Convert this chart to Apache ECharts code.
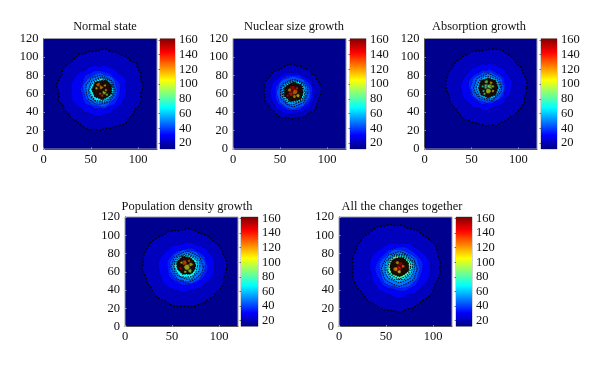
<!DOCTYPE html>
<html><head><meta charset="utf-8">
<style>html,body{margin:0;padding:0;background:#fff}#c{width:600px;height:366px;filter:blur(.3px)}</style>
<script src="https://cdn.jsdelivr.net/npm/echarts@6/dist/echarts.min.js"></script>
</head><body><div id="c"></div>
<script>
// Filled contours: [level, centre x, centre y, [radius per equal angle step, counter-clockwise from east]]
// Level 170 marks the region where contour lines are so dense that it reads as near black.
const panelTitles = ['Normal state','Nuclear size growth','Absorption growth','Population density growth','All the changes together'];
const xTicks = [0,50,100];
const yTicks = [0,20,40,60,80,100,120];
const colorbarTicks = [20,40,60,80,100,120,140,160];
const colorbarRange = [12,162];
const fieldLevel = 14;

const normalStateRings = [
 [21,60,64,[44,46,44,47,46,48,45,46,44,45,43,45,44,42,44,43,45,44,43,45,46,44,45,47,45,44,46,43,44,42,44,42,43,44,45,43,44,42,43,42,44,45,43,44,42,44,45,43]],
 [29,59,64,[29,28,30,29,27,28,27,28,26,27,28,26,28,29,30,31,29,30,31,29,28,29,27,28,29,27,28,26,27,28,27,29]],
 [35,60,64,[21,22,21,20,21,20,21,22,21,23,21,20,21,20,21,22,20,21,20,21,20,22,21,21]],
 [42,60,64,[18,17,18,19,18,17,19,18,17,18,18,19,18,17,18,17,18,17,18,19,18,17,18,18]],
 [48,60,64,[16,15,16,15,15,16,15,16,15,16,15,15,16,15,16,15,15,16,15,16]],
 [56,61,64,[14,13,14,13,14,13,14,13,13,14,13,14,13,14,13,13]],
 [66,61,64,[13,12,12,13,12,12,13,12,13,12,12,13]],
 [170,62,64.5,[10,11,10,11,10,10,11,10,11,10,11,10,11,10,10,11]],
 [125,58,70,[2.5,3,2,3,2.5,3]],
 [105,56,66,[2,1.5,2,1.5,2,1.5]],
 [120,61,67,[3,2,3,2,3,2]],
 [100,64,61,[3,2,3,2,3,2]],
 [115,66,64,[2,1.5,2,1.5,2,1.5]],
 [88,67,59,[1.5,2,1.5,2,1.5,2]],
 [130,60,60,[2,1.5,2,1.5,2,1.5]],
 [110,65,69,[1.5,2,1.5,2,1.5,2]],
 [135,62,58,[1.5,2,1.5,2,1.5,2]]
];
const nuclearSizeRings = [
 [21,62.5,61.5,[31,32,31,30,31,29,30,29,30,29,31,30,29,28,29,30,29,30,31,29,30,29,30,28,29,28,29,30,29,28,29,28,29,30,29,30,31,30,29,30]],
 [29,63,61,[24,23,24,23,22,23,22,23,23,22,24,23,24,23,23,24,23,24,23,22,23,24,23,24]],
 [35,64,61,[20,21,20,19,20,19,20,20,19,20,19,20,20,19,20,19,20,19,20,20]],
 [42,64,61,[18,18,17,18,17,18,17,18,18,17,18,17,18,17,18,18,17,18,17,18]],
 [48,64.5,61,[15,16,15,14,15,14,15,15,14,15,14,15,15,14,15,14]],
 [56,64.5,61.5,[13,14,13,13,12,13,13,14,12,13,13,14,13,12,13,13]],
 [68,64.5,62,[12,11,12,12,11,12,11,12,12,11,12,12]],
 [170,64.5,62,[10,10,11,10,11,10,10,11,10,11,10,11,10,10,11,10]],
 [152,63,65,[4,4.5,4,4.5,4,4.5]],
 [140,62,60,[3,3.5,3,3.5,3,3.5]],
 [125,66,62,[3,4,3,3,4,3]],
 [105,69,58,[2,2.5,2,2.5,2,2.5]],
 [120,60,64,[2,2.5,2,2.5,2,2.5]],
 [135,68,66,[2,1.5,2,1.5,2,1.5]],
 [112,65,57,[2,2.5,2,1.5,2,2.5]],
 [145,58,58,[2,1.5,2,1.5,2,1.5]]
];
const absorptionRings = [
 [21,66,67,[43,44,43,42,43,41,42,43,42,44,43,42,41,40,41,42,41,42,42,43,42,44,43,44,43,42,41,42,41,40,41,42,41,41,40,41,42,41,43,41,42,41,43,42,43,44,42,43]],
 [29,66,68,[27,28,27,26,27,25,26,25,24,25,24,25,24,25,26,27,28,27,28,27,26,27,26,25,26,25,24,25,26,25,26,27]],
 [35,67,67.5,[20,19,20,19,18,19,18,19,18,19,20,21,20,19,20,19,19,20,18,19,18,19,20,19]],
 [42,67,67,[18,17,18,17,16,17,16,17,16,17,18,17,18,17,18,17,17,16,17,16,17,18,17,18]],
 [48,67.5,67,[15,14,15,14,14,15,14,14,15,14,15,15,14,15,14,14,15,14,14,15]],
 [58,68,66.5,[13,12,13,12,12,13,12,12,13,12,13,12,12,13,12,12]],
 [170,68,66.5,[10.5,10,11,10,10.5,10,11,10,10.5,10,11,10,11,10,11,10]],
 [82,66,68,[3.5,3,3.5,3,3.5,3]],
 [92,70,68,[3,3.5,3,3.5,3,3.5]],
 [100,68,63,[3.5,3,3.5,3,3.5,3]],
 [76,63,63,[2,1.5,2,1.5,2,1.5]],
 [100,73,63,[2,1.5,2,1.5,2,1.5]],
 [88,66,73,[2,2.5,2,2.5,2,2.5]],
 [105,71,72,[2,1.5,2,1.5,2,1.5]],
 [70,62,68,[2,1.5,2,1.5,2,1.5]],
 [85,64,60,[1.5,2,1.5,2,1.5,2]],
 [95,73,68,[1.5,2,1.5,2,1.5,2]]
];
const populationRings = [
 [21,63,63.5,[45,46,45,44,45,44,43,44,43,42,43,44,43,42,43,44,43,44,45,46,45,46,45,44,45,43,42,43,41,42,43,42,41,42,43,42,41,42,43,42,43,42,44,43,44,45,43,44]],
 [29,65,65,[30,31,30,29,29,28,27,28,27,26,27,28,27,28,29,30,30,29,29,30,29,28,27,28,27,26,26,27,27,28,29,30]],
 [35,66,65.5,[22,21,22,21,20,21,20,19,20,21,21,22,21,21,22,21,20,21,20,19,20,20,21,22]],
 [42,66,65.5,[19,20,19,18,19,18,18,19,18,19,18,19,18,19,18,18,18,17,18,19,18,19,18,19]],
 [48,66,65.5,[17,16,17,16,16,17,16,16,17,16,17,16,16,17,16,17,16,16,16,17]],
 [56,65.5,66,[14,15,14,13,14,13,14,14,13,14,14,13,14,15,13,14]],
 [68,65,66,[12,13,12,12,12,12,13,12,13,12,13,12]],
 [170,65,66.5,[10,10,9.5,10,10,11,10,11,10,10,9,10,9,10,10,10]],
 [130,63,70,[3,3.5,3,3.5,3,3.5]],
 [100,66,65,[3.5,4,3.5,4,3.5,4]],
 [112,70,68,[3,2,3,2,3,2]],
 [92,69,61,[2,3,2,3,2,3]],
 [145,59,64,[2,1.5,2,1.5,2,1.5]],
 [110,60,70,[1.5,2,1.5,2,1.5,2]],
 [105,64,60,[2,1.5,2,1.5,2,1.5]],
 [125,68,72,[1.5,2,1.5,2,1.5,2]]
];
const allChangesRings = [
 [21,60,64.5,[47,48,47,48,49,48,47,46,47,46,45,47,46,48,47,49,48,47,48,47,47,46,47,46,45,46,47,46,46,45,46,47,46,47,48,47,48,49,47,48,47,46,47,48,47,46,47,48]],
 [29,64,62,[33,34,33,32,31,30,31,30,29,30,31,30,31,32,33,32,31,30,31,30,31,30,29,30,31,30,29,31,30,31,32,33]],
 [35,64,63,[25,26,25,24,24,25,24,23,24,23,24,25,26,25,24,25,24,23,24,25,24,25,24,24]],
 [42,64,63,[22,21,22,21,20,21,21,22,21,20,21,22,21,20,21,22,21,20,21,21,22,21,22,21]],
 [48,64,63,[19,18,19,18,18,19,18,19,18,18,19,18,19,18,18,19,18,18,19,18]],
 [56,64,64,[16,17,15,16,15,16,15,16,15,16,16,15,16,15,16,16]],
 [66,64,64.5,[14,15,14,14,13,14,14,13,14,13,14,14,13,14,13,14]],
 [80,64,65,[12,13,12,12,12,13,12,12,12,13,12,12,13,12,12,12]],
 [170,64,65.5,[10,10.5,10,11,10,10,10.5,10,10,10,11,10,11,10,10,11]],
 [152,65,67,[4,4.5,4,4.5,4,4.5]],
 [140,63,63,[3.5,4,3.5,4,3.5,4]],
 [118,60,63,[2.5,3,2.5,3,2.5,3]],
 [105,64,60,[2,2.5,2,2.5,2,2.5]],
 [125,68,66,[2.5,2,2.5,2,2.5,2]],
 [115,62,70,[2,2.5,2,2.5,2,2.5]]
];
const panelRings = [normalStateRings,nuclearSizeRings,absorptionRings,populationRings,allChangesRings];

// Layout: plot box, colour-bar box (left, top, width, height) and title centre
const plotBoxes = [[43.5,38.5,113.5,110.5],[233,38.5,113,110.5],[424.5,38.5,112.5,110.5],[125,217,113,109.5],[339,217,113,109.5]];
const barBoxes = [[160,38.5,15,110.5],[350,38.5,16,110.5],[541,38.5,16,110.5],[241,217,17,109.5],[456,217,16,109.5]];
const titleCentres = [[100,22],[289,22],[474,22],[182,202],[397,202]];

const jetStops = [[0,[0,0,128]],[.125,[0,0,255]],[.375,[0,255,255]],[.625,[255,255,0]],[.875,[255,0,0]],[1,[128,0,0]]];
function rgb(c){return 'rgb('+c.map(Math.round).join(',')+')';}
function jet(v){
  if(v>=170) return '#1e0a02';
  const p=Math.max(0,Math.min(1,(v-colorbarRange[0])/(colorbarRange[1]-colorbarRange[0])));
  for(let i=1;i<jetStops.length;i++){
    if(p<=jetStops[i][0]){
      const a=jetStops[i-1],b=jetStops[i],t=(p-a[0])/(b[0]-a[0]);
      return rgb(a[1].map((x,k)=>x+(b[1][k]-x)*t));
    }
  }
  return rgb(jetStops[5][1]);
}
const serif='"Liberation Serif","DejaVu Serif",serif';
const grids=[],xAxes=[],yAxes=[],series=[],titles=[];
const labelStyle={fontFamily:serif,fontSize:12.5,color:'#111'};
panelRings.forEach((rings,i)=>{
  const p=plotBoxes[i],b=barBoxes[i];
  grids.push({left:p[0],top:p[1],width:p[2],height:p[3],show:true,backgroundColor:jet(fieldLevel),borderColor:'#9a9aa8',borderWidth:1});
  grids.push({left:b[0],top:b[1],width:b[2],height:b[3],show:true,backgroundColor:'transparent',borderColor:'#777',borderWidth:.6});
  xAxes.push({gridIndex:2*i,type:'value',min:0,max:120,interval:50,splitLine:{show:false},
    axisLine:{onZero:false,lineStyle:{color:'#555',width:1}},
    axisTick:{inside:true,length:1.5,customValues:xTicks,lineStyle:{color:'#ddd',width:.6}},
    axisLabel:{...labelStyle,margin:4,customValues:xTicks,hideOverlap:false}});
  yAxes.push({gridIndex:2*i,type:'value',min:0,max:120,interval:20,splitLine:{show:false},
    axisLine:{onZero:false,lineStyle:{color:'#555',width:1}},
    axisTick:{inside:true,length:1.5,lineStyle:{color:'#ddd',width:.6}},
    axisLabel:{...labelStyle,margin:5,customValues:yTicks,hideOverlap:false}});
  xAxes.push({gridIndex:2*i+1,type:'value',min:0,max:1,show:false});
  yAxes.push({gridIndex:2*i+1,type:'value',position:'right',min:colorbarRange[0],max:colorbarRange[1],splitLine:{show:false},
    axisLine:{show:false},
    axisTick:{inside:true,length:1.5,customValues:colorbarTicks,lineStyle:{color:'#222',width:.6}},
    axisLabel:{...labelStyle,margin:4,customValues:colorbarTicks,hideOverlap:false}});
  titles.push({text:panelTitles[i],left:titleCentres[i][0],top:titleCentres[i][1]-7,textAlign:'center',
    textStyle:{fontFamily:serif,fontSize:12.4,fontWeight:'normal',color:'#111',lineHeight:14}});
  series.push({type:'custom',coordinateSystem:'cartesian2d',xAxisIndex:2*i,yAxisIndex:2*i,clip:true,silent:true,
    data:rings.map((r,k)=>[r[0],r[1],r[2],k]),encode:{x:1,y:2},
    renderItem:(params,api)=>{
      const r=rings[api.value(3)],rad=r[3],n=rad.length;
      const pts=rad.map((d,k)=>api.coord([r[1]+d*Math.cos(2*Math.PI*k/n),r[2]+d*Math.sin(2*Math.PI*k/n)]));
      const outer=r[0]===21, inner=r[0]>=48, patch=n===6;
      return {type:'polygon',shape:{points:pts},style:{fill:jet(r[0]),opacity:patch?.62:1,
        stroke:outer?'rgba(0,0,10,1)':(inner?'rgba(0,0,10,.85)':'rgba(0,0,40,.5)'),
        lineWidth:outer?1.3:(inner?1.1:.8),lineDash:patch?null:(outer?[2,1.5]:[1.5,1])}};
    }});
  series.push({type:'custom',coordinateSystem:'cartesian2d',xAxisIndex:2*i+1,yAxisIndex:2*i+1,clip:true,silent:true,
    data:[[0,colorbarRange[0]]],encode:{x:0,y:1},
    renderItem:(params,api)=>{
      const a=api.coord([0,colorbarRange[1]]),c=api.coord([1,colorbarRange[0]]);
      return {type:'rect',shape:{x:a[0],y:a[1],width:c[0]-a[0],height:c[1]-a[1]},style:{
        fill:new echarts.graphic.LinearGradient(0,1,0,0,jetStops.map(s=>({offset:s[0],color:rgb(s[1])})))}};
    }});
});
echarts.init(document.getElementById('c'),null,{renderer:'canvas',width:600,height:366}).setOption({
  animation:false,backgroundColor:'#fff',title:titles,grid:grids,xAxis:xAxes,yAxis:yAxes,series});
</script></body></html>
